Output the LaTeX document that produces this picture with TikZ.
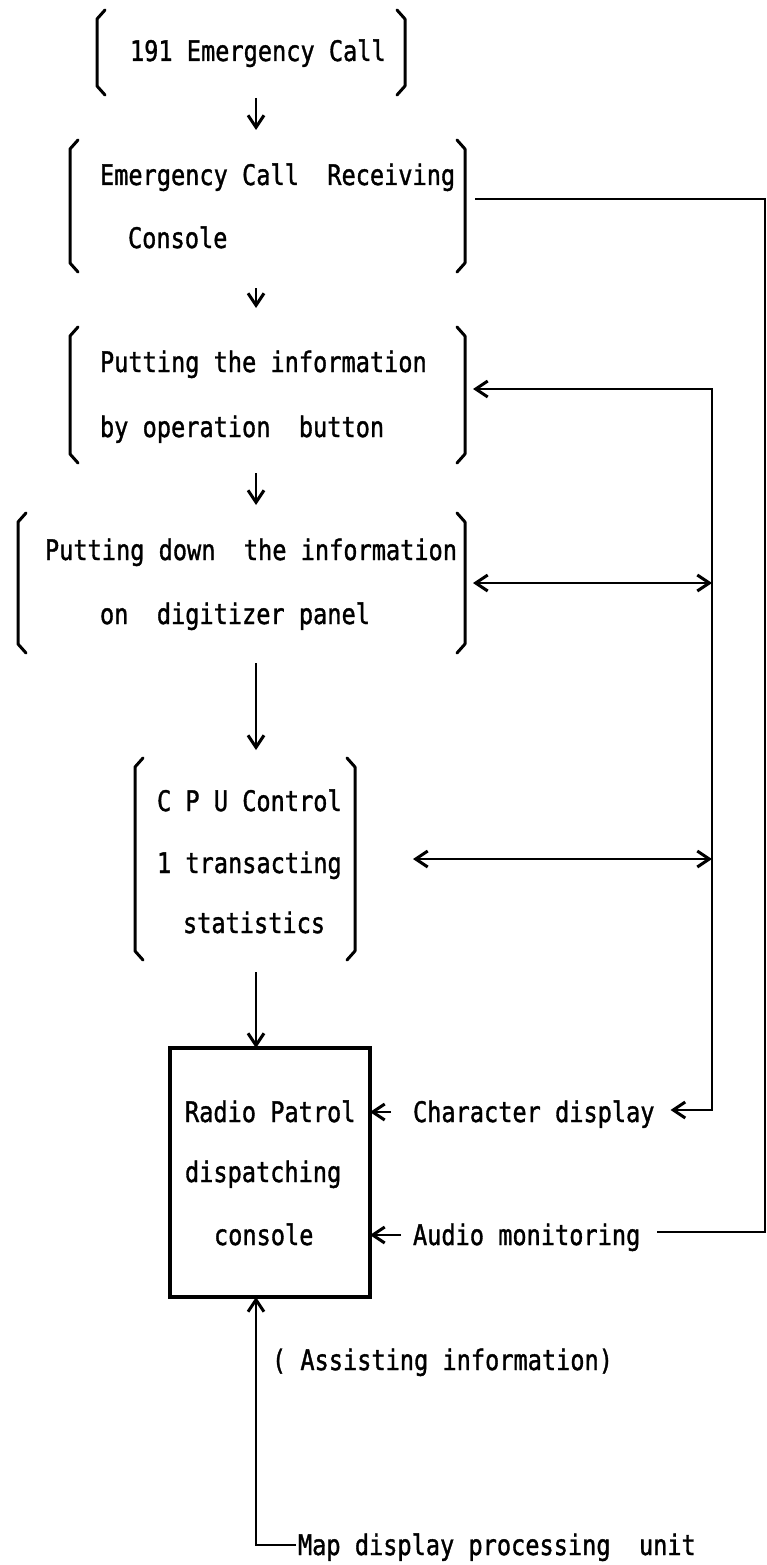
\documentclass[tikz,border=0pt]{standalone}
\usepackage{fontspec}
\usepackage{graphicx}
\newfontfamily\tw[FakeBold=1.4]{DejaVu Sans Mono}
\usetikzlibrary{arrows.meta,calc}
\newcommand\tl[1]{\scalebox{1}[1.2]{#1}}
\tikzset{
  every node/.style={inner sep=0pt, outer sep=0pt},
  txt/.style={anchor=west, text height=20pt, text depth=0pt, font=\tw\fontsize{23.6pt}{28pt}\selectfont},
  ln/.style={line width=2.8pt, line join=miter},
  arr/.style={ln, -{Straight Barb[length=12pt,width=16pt,line width=3pt]}},
  arrb/.style={ln, {Straight Barb[length=12pt,width=16pt,line width=3pt]}-{Straight Barb[length=12pt,width=16pt,line width=3pt]}},
  brk/.style={line width=3pt, line join=round, line cap=round}
}
\newcommand\bkts[1]{%
  \draw[brk] ([xshift=8pt]#1.north west) -- ([yshift=-9pt]#1.north west) -- ([yshift=9pt]#1.south west) -- ([xshift=8pt]#1.south west);
  \draw[brk] ([xshift=-8pt]#1.north east) -- ([yshift=-9pt]#1.north east) -- ([yshift=9pt]#1.south east) -- ([xshift=-8pt]#1.south east);
}
\begin{document}
\begin{tikzpicture}[x=1pt,y=-1pt]
\useasboundingbox[fill=white] (0,0) rectangle (767,1565);
% boxes
\node[minimum width=308pt, minimum height=85pt] (b1) at (251,52.5) {};
\node[minimum width=395pt, minimum height=132pt] (b2) at (267.5,206) {};
\node[minimum width=395pt, minimum height=136pt] (b3) at (267.5,395) {};
\node[minimum width=447pt, minimum height=140pt] (b4) at (241.5,583) {};
\node[minimum width=220pt, minimum height=202pt] (b5) at (245,859) {};
\node[draw, line width=3.5pt, minimum width=200pt, minimum height=249pt] (b6) at (270,1172.5) {};
\bkts{b1}\bkts{b2}\bkts{b3}\bkts{b4}\bkts{b5}
% texts
\node[txt] (t1) at (130,51) {\tl{191 Emergency Call}};
\node[txt] (t2a) at (100,175) {\tl{Emergency Call\ \ Receiving}};
\node[txt] (t2b) at (128,238) {\tl{Console}};
\node[txt] (t3a) at (100,362) {\tl{Putting the information}};
\node[txt] (t3b) at (100,427) {\tl{by operation\ \ button}};
\node[txt] (t4a) at (45,550) {\tl{Putting down\ \ the information}};
\node[txt] (t4b) at (100,614) {\tl{on\ \ digitizer panel}};
\node[txt] (t5a) at (157,801) {\tl{C P U Control}};
\node[txt] (t5b) at (157,863) {\tl{1 transacting}};
\node[txt] (t5c) at (183,923) {\tl{statistics}};
\node[txt] (t6a) at (185,1112) {\tl{Radio Patrol}};
\node[txt] (t6b) at (185,1172) {\tl{dispatching}};
\node[txt] (t6c) at (214,1235) {\tl{console}};
\node[txt] (char) at (413,1112) {\tl{Character display}};
\node[txt] (audio) at (413,1235) {\tl{Audio monitoring}};
\node[txt] (assist) at (272,1360) {\tl{( Assisting information)}};
\node[txt] (map) at (298,1545) {\tl{Map display processing\ \ unit}};
% coordinates
\coordinate (ax) at (256,0);
\coordinate (R1) at (765,199);
\coordinate (R2) at (765,1232);
\coordinate (B1) at (712,389);
\coordinate (B2) at (712,1110);
% main flow
\draw[arr] ([yshift=-3pt]b1.south -| ax) -- ([yshift=10pt]b2.north -| ax);
\draw[arr] ([yshift=-16pt]b2.south -| ax) -- ([yshift=19pt]b3.north -| ax);
\draw[arr] ([yshift=-10pt]b3.south -| ax) -- ([yshift=8pt]b4.north -| ax);
\draw[arr] ([yshift=-10pt]b4.south -| ax) -- ([yshift=8pt]b5.north -| ax);
\draw[arr] ([yshift=-12pt]b5.south -| ax) -- (b6.north -| ax);
% right side
\draw[ln] ($(b2.east |- R1)+(10pt,0)$) -- (R1) -- (R2) -- ($(audio.east |- R2)+(17pt,0)$);
\draw[arrb] ($(b3.east |- B1)+(8pt,0)$) -- (B1) -- (B2) -- ($(char.east |- B2)+(16pt,0)$);
\draw[arrb] ([xshift=8pt]b4.east) -- (b4.east -| B1);
\draw[arrb] ([xshift=58pt]b5.east) -- (b5.east -| B1);
\draw[arr] ([xshift=-22pt]char.west) -- (b6.east |- char.west);
\draw[arr] ([xshift=-12pt]audio.west) -- (b6.east |- audio.west);
% map
\draw[arr] ([xshift=-2pt]map.west) -| (b6.south -| ax);
\end{tikzpicture}
\end{document}
